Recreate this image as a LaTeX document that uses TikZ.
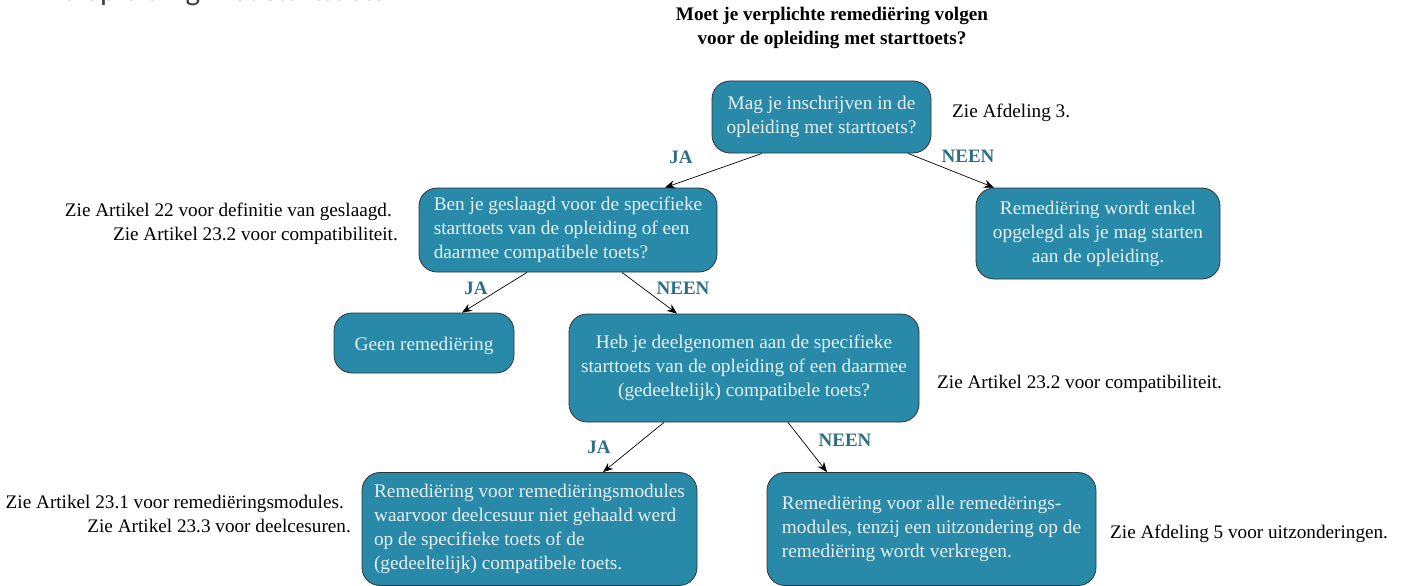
\documentclass[tikz,border=0pt]{standalone}
\usepackage{fontspec}
\setmainfont{Liberation Serif}
\newfontfamily\headfont{Carlito}
\usetikzlibrary{arrows.meta,calc}
\definecolor{boxfill}{RGB}{40,137,168}
\definecolor{boxtext}{RGB}{232,240,242}
\definecolor{lbl}{RGB}{45,110,135}
\definecolor{headgray}{RGB}{60,60,60}
\begin{document}
\begin{tikzpicture}[x=1pt,y=-1pt,
  box/.style={draw=black!80, line width=0.8pt, fill=boxfill, rounded corners=18pt,
    text=boxtext, font=\fontsize{19.3}{24}\selectfont, inner xsep=8pt, inner ysep=0pt,
    execute at begin node={\rule{0pt}{19.5pt}}},
  note/.style={font=\fontsize{19.2}{24.5}\selectfont, text=black, inner sep=0pt},
  lab/.style={font=\bfseries\fontsize{19}{22}\selectfont, text=lbl, inner sep=0pt},
  ttl/.style={font=\bfseries\fontsize{19.2}{24}\selectfont, text=black, inner sep=0pt, align=center},
  arr/.style={-{Stealth[length=10pt,width=8pt]}, line width=0.7pt, draw=black}]
\useasboundingbox (0,0) rectangle (1401,586);

% cut-off heading at the top-left edge
\begin{scope}
\clip (0,0) rectangle (420,7);
\node[anchor=base west, inner sep=0pt, font=\headfont\fontsize{31}{36}\selectfont, text=headgray] (head) at (42,0.5) {De opleiding met starttoets};
\end{scope}

% title
\node[ttl] (title) at (832,28) {Moet je verplichte remediëring volgen\\voor de opleiding met starttoets?};

% boxes
\node[box, minimum width=219pt, minimum height=72pt, align=center] (b1) at (821.5,117)
  {Mag je inschrijven in de\\opleiding met starttoets?};
\node[box, minimum width=298pt, minimum height=84pt, align=left] (b2) at (568,230)
  {Ben je geslaagd voor de specifieke\\starttoets van de opleiding of een\\daarmee compatibele toets?};
\node[box, minimum width=244pt, minimum height=91pt, align=center] (b3) at (1098,233.5)
  {Remediëring wordt enkel\\opgelegd als je mag starten\\aan de opleiding.};
\node[box, minimum width=180pt, minimum height=60pt, align=center] (b4) at (424,343)
  {Geen remediëring};
\node[box, minimum width=350pt, minimum height=108pt, align=center] (b5) at (744,368)
  {Heb je deelgenomen aan de specifieke\\starttoets van de opleiding of een daarmee\\(gedeeltelijk) compatibele toets?};
\node[box, minimum width=335pt, minimum height=113pt, align=left] (b6) at (529.5,529)
  {Remediëring voor remediëringsmodules\\waarvoor deelcesuur niet gehaald werd\\op de specifieke toets of de\\(gedeeltelijk) compatibele toets.};
\node[box, minimum width=329pt, minimum height=113pt, align=left] (b7) at (931.5,529)
  {Remediëring voor alle remedërings-\\modules, tenzij een uitzondering op de\\remediëring wordt verkregen.};

% notes
\node[note, anchor=west] (n1) at (952,113) {Zie Afdeling 3.};
\node[note, anchor=east, align=right] (n2) at (398,224)
  {Zie Artikel 22 voor definitie van geslaagd.\hspace*{6pt}\\Zie Artikel 23.2 voor compatibiliteit.};
\node[note, anchor=west] (n3) at (937,384) {Zie Artikel 23.2 voor compatibiliteit.};
\node[note, anchor=east, align=right] (n4) at (351,514)
  {Zie Artikel 23.1 voor remediëringsmodules.\hspace*{7pt}\\Zie Artikel 23.3 voor deelcesuren.};
\node[note, anchor=west] (n5) at (1110,534) {Zie Afdeling 5 voor uitzonderingen.};

% connectors
\draw[arr] ([xshift=-59.5pt]b1.south) -- ([xshift=97pt]b2.north);
\draw[arr] ([xshift=86.5pt]b1.south) -- ([xshift=-104pt]b3.north);
\draw[arr] ([xshift=-41pt]b2.south) -- ([xshift=38pt]b4.north);
\draw[arr] ([xshift=54pt]b2.south) -- ([xshift=-67pt]b5.north);
\draw[arr] ([xshift=-80pt]b5.south) -- ([xshift=73.5pt]b6.north);
\draw[arr] ([xshift=44pt]b5.south) -- ([xshift=-104.5pt]b7.north);

% labels
\node[lab] (l1) at (681,157) {JA};
\node[lab] (l2) at (968,156) {NEEN};
\node[lab] (l3) at (476,288) {JA};
\node[lab] (l4) at (683,288) {NEEN};
\node[lab] (l5) at (599,447) {JA};
\node[lab] (l6) at (845,440) {NEEN};
\end{tikzpicture}
\end{document}
